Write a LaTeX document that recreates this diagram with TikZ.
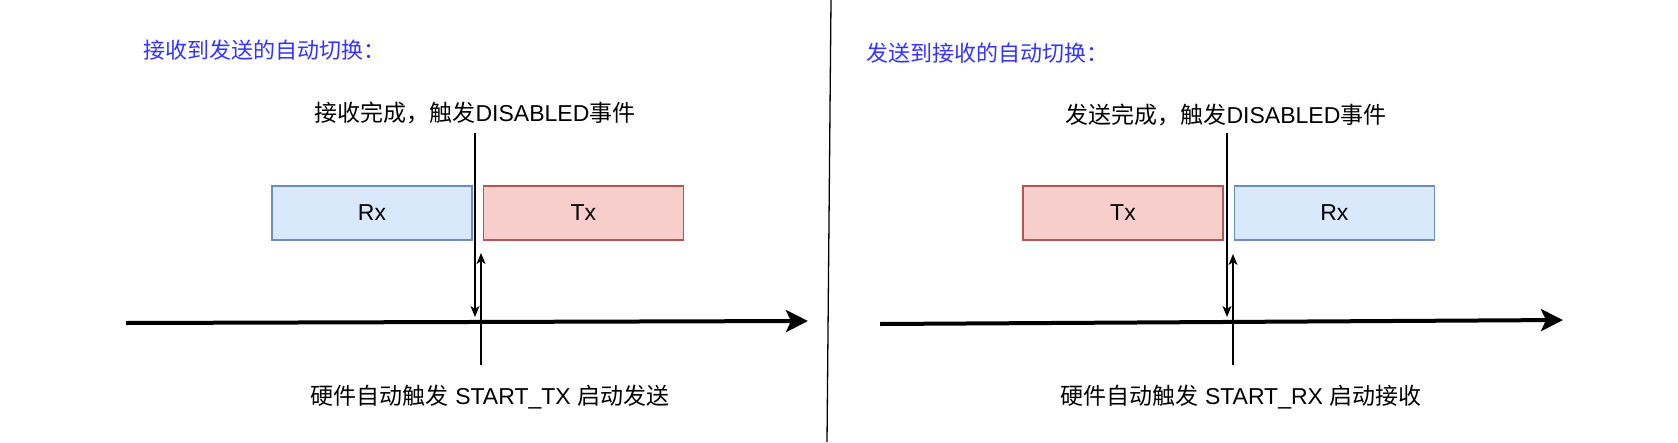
\documentclass[tikz,border=0pt]{standalone}
\usepackage{fontspec}
\setmainfont{Liberation Sans}
\newfontfamily\cjk{Noto Sans CJK SC}
\usepackage{tikz}
\usetikzlibrary{chains}
\usetikzlibrary{arrows.meta,positioning}

\definecolor{rxfill}{HTML}{DAE8FC}
\definecolor{rxline}{HTML}{6C8EBF}
\definecolor{txfill}{HTML}{F8CECC}
\definecolor{txline}{HTML}{B85450}
\definecolor{titleblue}{RGB}{51,51,255}

\begin{document}
\begin{tikzpicture}[x=1pt,y=-1pt]
            \edef\sizeslot{200pt}
            \tikzstyle{slot}=[draw,line width=1.3pt,minimum width=\sizeslot,minimum height=54pt,
            font=\fontsize{23}{27}\selectfont]
            \tikzstyle{rxslot}=[slot,fill=rxfill,draw=rxline]
            \tikzstyle{txslot}=[slot,fill=txfill,draw=txline]
            \tikzstyle{lbl}=[inner sep=0pt,font=\fontsize{23}{27}\selectfont]
            \tikzstyle{heading}=[inner sep=0pt,anchor=west,text=titleblue,font=\fontsize{22}{26}\selectfont]
            \tikzstyle{evt}=[line width=1.3pt,-{Stealth[length=11pt,width=9pt,inset=3pt]}]
            \tikzstyle{axis}=[line width=4pt,-{Stealth[length=22pt,width=22pt,inset=5pt]}]

            \useasboundingbox (0,0) rectangle (1678,442);

            % receive -> transmit
            \node [heading] (titleRT) at (143,50) {\cjk 接收到发送的自动切换：};
            \node [lbl] (doneRT) at (475,113) {{\cjk 接收完成，触发}DISABLED{\cjk 事件}};
            \begin{scope}[start chain=1 going right,node distance=10pt]
                \node [on chain=1,rxslot] at (372,213) (rxRT) {Rx};
                \node [on chain=1,txslot] (txRT) {Tx};
            \end{scope}
            \coordinate (downRTa) at (475,133);
            \coordinate (downRTb) at (475,317);
            \coordinate (upRTa) at (481,365);
            \coordinate (upRTb) at (481,253);
            \coordinate (axisRTa) at (126,323);
            \coordinate (axisRTb) at (808,321);
            \draw [evt] (downRTa) -- (downRTb);
            \draw [evt] (upRTa) -- (upRTb);
            \draw [axis] (axisRTa) -- (axisRTb);
            \node [lbl] (hwRT) at (490,397) {{\cjk 硬件自动触发} START\_TX {\cjk 启动发送}};

            % divider
            \coordinate (sepA) at (831,0);
            \coordinate (sepB) at (827,442);
            \draw [line width=1.3pt] (sepA) -- (sepB);

            % transmit -> receive
            \node [heading] (titleTR) at (866,53) {\cjk 发送到接收的自动切换：};
            \node [lbl] (doneTR) at (1226,115) {{\cjk 发送完成，触发}DISABLED{\cjk 事件}};
            \begin{scope}[start chain=2 going right,node distance=10pt]
                \node [on chain=2,txslot] at (1123,213) (txTR) {Tx};
                \node [on chain=2,rxslot] (rxTR) {Rx};
            \end{scope}
            \coordinate (downTRa) at (1227,133);
            \coordinate (downTRb) at (1227,317);
            \coordinate (upTRa) at (1233,365);
            \coordinate (upTRb) at (1233,254);
            \coordinate (axisTRa) at (880,324);
            \coordinate (axisTRb) at (1563,320);
            \draw [evt] (downTRa) -- (downTRb);
            \draw [evt] (upTRa) -- (upTRb);
            \draw [axis] (axisTRa) -- (axisTRb);
            \node [lbl] (hwTR) at (1241,397) {{\cjk 硬件自动触发} START\_RX {\cjk 启动接收}};
\end{tikzpicture}
\end{document}
